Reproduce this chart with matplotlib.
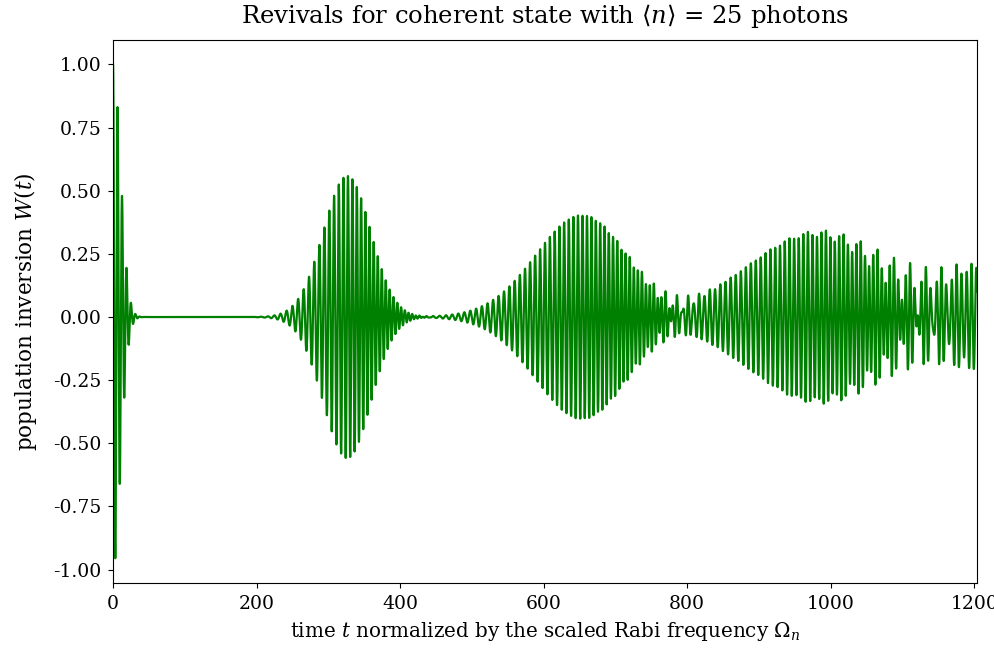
"""
Jaynes-Cummings collapse and revival of the population inversion
for a coherent field with mean photon number 25.
"""
import numpy as np
import matplotlib
matplotlib.use('Agg')
import matplotlib.pyplot as plt
from math import lgamma

plt.rcParams['font.family'] = ['DejaVu Serif']
plt.rcParams['mathtext.fontset'] = 'dejavuserif'

# parameters
mean_photons = 25
t_start = 0
t_stop = 1204
n_samples = 12000
n_max = 120

x_ticks = [0, 200, 400, 600, 800, 1000, 1200]
y_ticks = [-1.00, -0.75, -0.50, -0.25, 0.00, 0.25, 0.50, 0.75, 1.00]

# photon-number distribution of the coherent state
n = np.arange(n_max)
log_p = np.array([k * np.log(mean_photons) - mean_photons - lgamma(k + 1) for k in n])
p_n = np.exp(log_p)

t = np.linspace(t_start, t_stop, n_samples)
# Rabi frequency of each photon number, scaled by the one at <n>
omega_n = np.sqrt((n + 1) / (mean_photons + 1))
W = (p_n[:, None] * np.cos(np.outer(omega_n, t))).sum(axis=0)

fig, ax = plt.subplots(figsize=(9.95, 6.52), dpi=100)
ax.plot(t, W, color='green', linewidth=1.6)

ax.set_xlim(t_start, t_stop)
ax.set_xticks(x_ticks)
ax.set_yticks(y_ticks)
ax.set_yticklabels([f'{v:.2f}' for v in y_ticks])
ax.tick_params(labelsize=13.5, pad=5)

ax.set_title(r'Revivals for coherent state with $\langle n \rangle$ = 25 photons',
             fontsize=17.5, pad=12)
ax.set_xlabel(r'time $t$ normalized by the scaled Rabi frequency $\Omega_n$', fontsize=14.3,
              labelpad=5)
ax.set_ylabel(r'population inversion $W(t)$', fontsize=15.5, labelpad=10)

plt.subplots_adjust(left=0.1136, right=0.982, top=0.939, bottom=0.106)
plt.savefig('out.png', dpi=100)
plt.close()
